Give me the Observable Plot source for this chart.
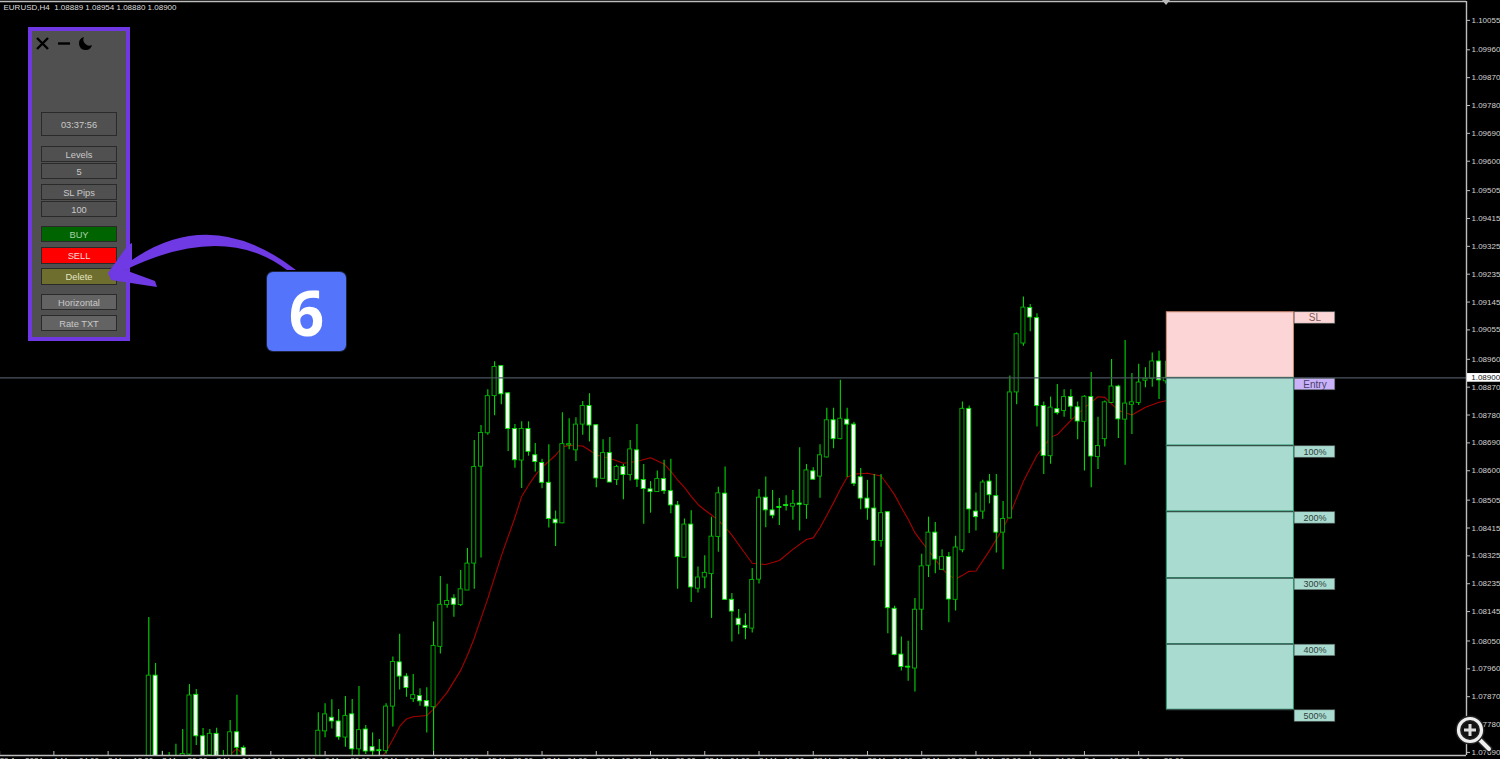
<!DOCTYPE html>
<html>
<head>
<meta charset="utf-8">
<script src="https://cdn.jsdelivr.net/npm/d3@7"></script>
<script src="https://cdn.jsdelivr.net/npm/@observablehq/plot@0.6"></script>
<style>
html,body{margin:0;padding:0;background:#000;overflow:hidden;width:1500px;height:759px}
#chart{position:absolute;left:0;top:0}
#chart svg{display:block}
.panel{position:absolute;left:28px;top:27px;width:94px;height:306px;background:#505050;border:4px solid #7038e2}
.btn{position:absolute;left:41px;width:74px;box-sizing:content-box;border:1.5px solid #2a2a2a;background:#505050;color:#c9c9c9;font:9.3px "Liberation Sans",Arial,sans-serif;text-align:center;display:flex;align-items:center;justify-content:center;padding-top:1px}
svg.over{position:absolute;left:0;top:0;pointer-events:none}
.badge{position:absolute;left:267px;top:272px;width:79px;height:79px;border-radius:6px;background:#5475fb;box-shadow:0 0 0 1px #1c2440;color:#fff;font:700 62px "Noto Sans",sans-serif;display:flex;align-items:center;justify-content:center}
</style>
</head>
<body>
<div id="chart"></div>
<div class="panel"></div>
<div class="btn" style="top:112px;height:21px">03:37:56</div>
<div class="btn" style="top:146px;height:13px">Levels</div>
<div class="btn" style="top:163px;height:13px">5</div>
<div class="btn" style="top:184px;height:13px">SL Pips</div>
<div class="btn" style="top:201px;height:13px">100</div>
<div class="btn" style="top:226px;height:13px;background:#006400;color:#a9d3a9">BUY</div>
<div class="btn" style="top:247px;height:14px;background:#ff0000;color:#ffd8d8">SELL</div>
<div class="btn" style="top:268px;height:14px;background:#6e6e2e;color:#e6e6c4">Delete</div>
<div class="btn" style="top:294px;height:13px;background:#636363">Horizontal</div>
<div class="btn" style="top:315px;height:13px;background:#636363">Rate TXT</div>
<svg class="over" width="1500" height="759">
  <path d="M37 38L48 49M48 38L37 49" stroke="#000" stroke-width="2.4" fill="none"/>
  <path d="M58 43.5H70" stroke="#000" stroke-width="2.4" fill="none"/>
  <path d="M84 37a6.6 6.6 0 1 0 8 8a6 6 0 0 1-8-8z" fill="#000"/>
  <path d="M296 270Q212 205 132 260L132 243L128 245L108 273L111 280L157 287L155 281L125 270Q224 222 287 270Z" fill="#6f39e4"/>
  <path d="M1162 0H1170L1166 5Z" fill="#b9b9b9"/>
  <g fill="none" stroke-linecap="round">
    <path d="M1479 739L1489 749" stroke="#222" stroke-width="7"/>
    <path d="M1479 739L1489 749" stroke="#eee" stroke-width="4"/>
    <circle cx="1470" cy="730" r="11.5" stroke="#222" stroke-width="6" fill="#111"/>
    <circle cx="1470" cy="730" r="11.5" stroke="#eee" stroke-width="3.2"/>
    <path d="M1464 730H1476M1470 724V736" stroke="#ddd" stroke-width="3" stroke-linecap="butt"/>
  </g>
</svg>
<div class="badge">6</div>
<script>
// EURUSD H4 candles, in points (1e-5). Null = below the visible window.
const n10 = [null,null,null,null,null,null,null,null,null,null];
const openPts = [107640,107938,107640,107640,107640,107660,107683,107876,107742,107681,
107750,107640,107660,107755,107704,...n10,107650,107758,107802,107790,107738,
107813,107700,107764,107707,107697,107694,107838,107981,107935,107862,
107872,107856,107836,108031,108166,108187,108166,108213,108300,108613,
108721,108841,108938,108850,108735,108633,108735,108650,108625,108561,
108442,108430,108682,108666,108749,108809,108747,108574,108657,108570,
108612,108586,108666,108570,108540,108531,108573,108534,108488,108319,
108426,108219,108255,108266,108386,108526,108183,108122,108099,108090,
108248,108513,108472,108483,108489,108484,108494,108489,108598,108581,
108643,108763,108702,108765,108749,108579,108510,108478,108373,108466,
108154,108006,107967,107961,108151,108293,108400,108280,108321,108183,
108343,108800,108468,108468,108565,108518,108400,108446,108853,109011,
109126,109093,108809,108647,108799,108793,108838,108805,108758,108838,
108644,108702,108819,108872,108765,108813,108819,108891,108897,108953,108889];
const closePts = [107938,107640,107620,107620,107620,107685,107874,107742,107660,107750,
107660,107620,107755,107705,107660,...n10,107760,107813,107790,107739,107808,
107700,107762,107693,107693,107694,107838,107982,107935,107898,107875,
107855,107838,108034,108167,108179,108167,108217,108300,108612,108722,
108841,108935,108847,108735,108634,108735,108661,108628,108561,108444,
108430,108686,108686,108749,108809,108746,108575,108657,108562,108612,
108586,108669,108571,108541,108531,108573,108534,108488,108321,108426,
108223,108255,108270,108387,108527,108183,108145,108101,108092,108247,
108513,108472,108455,108480,108486,108493,108490,108601,108571,108650,
108763,108702,108768,108749,108558,108510,108478,108373,108463,108156,
108005,107966,107964,108151,108291,108400,108313,108321,108184,108352,
108800,108475,108450,108562,108521,108400,108444,108853,109041,109127,
109095,108809,108648,108804,108786,108838,108807,108759,108839,108646,
108680,108821,108872,108766,108817,108821,108885,108897,108953,108892,108900];
const highPts = [108126,107977,107694,107690,107716,107764,107909,107893,107767,107764,
107768,107696,107793,107875,107711,...n10,107818,107847,107860,107829,107871,
107861,107903,107777,107753,107732,107847,107998,108072,107944,107942,
107896,107899,108111,108258,108233,108199,108278,108349,108698,108746,
108862,108952,108939,108853,108749,108758,108758,108688,108637,108684,
108470,108787,108768,108771,108824,108849,108749,108700,108707,108618,
108620,108698,108749,108620,108565,108599,108634,108637,108501,108444,
108471,108289,108325,108450,108547,108612,108203,108152,108138,108284,
108539,108580,108536,108510,108519,108536,108674,108620,108610,108684,
108802,108802,108892,108802,108757,108607,108569,108588,108588,108468,
108162,108063,108049,108187,108330,108450,108433,108345,108336,108388,
108822,108809,108528,108569,108588,108588,108501,108906,109045,109161,
109137,109107,108822,108838,108879,108862,108862,108822,108842,108917,
108773,108825,108959,108876,109021,108914,108944,108933,108980,108986,108954];
const lowPts = [107600,107600,107600,107600,107600,107640,107660,107712,107640,107670,
107640,107600,107640,107660,107640,...n10,107630,107737,107766,107729,107707,
107660,107660,107683,107670,107670,107685,107772,107892,107868,107851,
107839,107753,107660,108008,108156,108127,108161,108213,108217,108318,
108715,108778,108813,108662,108608,108543,108647,108596,108542,108415,
108355,108429,108668,108630,108715,108693,108545,108574,108561,108552,
108506,108567,108546,108427,108463,108530,108523,108461,108217,108319,
108174,108205,108219,108123,108337,108181,108047,108070,108054,108076,
108234,108416,108445,108423,108470,108440,108405,108443,108570,108511,
108641,108671,108700,108578,108549,108474,108440,108292,108353,108073,
108002,107953,107920,107885,108084,108255,108267,108280,108109,108147,
108335,108397,108405,108443,108493,108334,108280,108444,108813,109002,
109049,108741,108588,108621,108780,108773,108765,108700,108599,108545,
108604,108677,108818,108704,108618,108717,108811,108868,108870,108830,108880];

// Moving average, read at these bars.
const maBars = [12,13,14,20,28,34,35,36,37,38,39,41,42,44,46,47,48,50,52,54,55,56,57,58,60,61,62,64,65,66,68,70,72,74,76,77,78,79,80,81,82,83,84,85,86,88,89,91,93,95,97,98,99,100,101,102,103,104,106,108,109,110,111,112,113,114,115,117,118,119,120,121,122,124,126,127,129,131,133,134,136,138,140,141,143,145,147,149,150];
const maPts = [107682,107703,107680,107535,107535,107664,107693,107732,107774,107798,107805,107809,107830,107884,107955,108004,108059,108187,108325,108449,108517,108553,108585,108611,108650,108677,108682,108680,108666,108651,108640,108624,108630,108642,108622,108598,108570,108546,108517,108491,108473,108457,108440,108418,108392,108331,108301,108297,108310,108346,108378,108383,108416,108456,108497,108540,108579,108589,108592,108583,108554,108522,108481,108443,108400,108370,108343,108284,108262,108250,108262,108275,108276,108342,108414,108458,108566,108650,108708,108717,108763,108803,108839,108837,108795,108780,108805,108821,108826];

// Right-hand price axis
const priceTicks = [1.10055,1.09960,1.09870,1.09780,1.09690,1.09600,1.09505,1.09415,1.09325,1.09235,1.09145,1.09055,1.08960,1.08870,1.08780,1.08690,1.08600,1.08505,1.08415,1.08325,1.08235,1.08145,1.08050,1.07960,1.07870,1.07780,1.07690];

// Time axis
const dateBars = [-22,-14,-6,2,10,18,26,34,42,50,58,66,74,82,90,98,106,114,122,130,138,146];
const dateLabels = ["29 Apr 2024","1 May","2 May","3 May","7 May","8 May","9 May","13 May","14 May","15 May","17 May","20 May","21 May","22 May","24 May","27 May","28 May","30 May","31 May","4 Jun","5 Jun","6 Jun"];
const timeBars = [-10,-2,6,14,22,30,38,46,54,62,70,78,86,94,102,110,118,126,134,142,150];
const timeLabels = ["04:00","12:00","20:00","04:00","12:00","20:00","04:00","12:00","20:00","04:00","12:00","20:00","04:00","12:00","20:00","04:00","12:00","20:00","04:00","12:00","20:00"];

// Trade levels
const bidPrice = 1.08900;
const slPrice = 1.09112;
const tpPrices = [1.08681,1.08468,1.08253,1.08040,1.07828];
const tpNames = ["100%","200%","300%","400%","500%"];
const quote = "EURUSD,H4  1.08889 1.08954 1.08880 1.08900";

const candles = openPts.map((o,i)=>({i,open:o==null?null:o/1e5,close:closePts[i]==null?null:closePts[i]/1e5,high:highPts[i]==null?null:highPts[i]/1e5,low:lowPts[i]==null?null:lowPts[i]/1e5})).filter(d=>d.open!=null);
const ma = maBars.map((b,k)=>({b,v:maPts[k]/1e5}));

const boxL=150.15, boxR=168.9, tagL=169, tagR=175, tagH=0.00037;
const xMax=194.35, xMin=-21.873, yMin=1.0768, yMax=1.10116;
const zoneTops=[bidPrice,...tpPrices.slice(0,-1)];
const zones=tpPrices.map((p,k)=>({top:zoneTops[k],bottom:p}));
const tags=[{name:"SL",p:slPrice,fill:"#fcd6d6",ink:"#7d5a5a"},{name:"Entry",p:bidPrice-0.00003,fill:"#c9b2fa",ink:"#4a3f6a"},...tpPrices.map((p,k)=>({name:tpNames[k],p:p-0.00002,fill:"#a9dbd0",ink:"#303f3a"}))];
const font='"Liberation Sans",Arial,sans-serif';
const axisInk="#d2d2d2", lineInk="#bdbdbd";

const plot=Plot.plot({
  width:1500,height:759,marginLeft:0,marginRight:34,marginTop:1,marginBottom:4,
  style:{background:"#000",fontFamily:font,overflow:"hidden"},
  x:{domain:[xMin,xMax],axis:null},
  y:{domain:[yMin,yMax],axis:null},
  marks:[
    Plot.line(ma,{x:"b",y:"v",stroke:"#a80000",strokeWidth:1.1,clip:true}),
    Plot.ruleX(candles,{x:"i",y1:"low",y2:"high",stroke:"#00d800",strokeWidth:1.1,clip:true}),
    Plot.rect(candles,{x1:d=>d.i-0.3,x2:d=>d.i+0.3,y1:"open",y2:"close",fill:d=>d.close<d.open?"#fff":"#000",stroke:d=>d.close<d.open?"#00ea00":"#00b800",strokeWidth:0.9,clip:true}),
    Plot.ruleY([bidPrice],{stroke:"#4b5560",strokeWidth:1.3}),
    Plot.rect([{a:bidPrice,b:slPrice}],{x1:boxL,x2:boxR,y1:"a",y2:"b",fill:"#fcd6d6",stroke:"#cf8a72",strokeWidth:1}),
    Plot.rect(zones,{x1:boxL,x2:boxR,y1:"top",y2:"bottom",fill:"#a9dbd0",stroke:"#2f9a72",strokeWidth:1}),
    Plot.ruleY(tpPrices,{x1:boxL,x2:boxR,stroke:"#37514a",strokeWidth:1.2}),
    Plot.ruleY([bidPrice],{x1:boxL,x2:boxR,stroke:"#4b5560",strokeWidth:1.3}),
    Plot.rect(tags,{x1:tagL,x2:tagR,y1:d=>d.p,y2:d=>d.p-tagH,fill:"fill",stroke:"#55605c",strokeWidth:0.6}),
    Plot.text(tags,{x:(tagL+tagR)/2,y:d=>d.p-tagH/2,text:"name",fill:"ink",fontSize:d=>d.name==="Entry"||d.name==="SL"?10:9}),
    Plot.ruleY([yMin,yMax],{stroke:lineInk,strokeWidth:1.4}),
    Plot.ruleX([xMax],{stroke:lineInk,strokeWidth:1.4}),
    Plot.axisY({anchor:"right",ticks:priceTicks,tickFormat:d3.format(".5f"),tickSize:3,tickPadding:2,stroke:lineInk,fill:axisInk,fontSize:8,fontVariant:"normal",label:null,textAnchor:"start"}),
    Plot.axisX({anchor:"bottom",ticks:dateBars,tickFormat:d=>dateLabels[dateBars.indexOf(d)],tickSize:-4,tickPadding:6,stroke:lineInk,fill:axisInk,fontSize:8,fontVariant:"normal",textAnchor:"start",label:null}),
    Plot.axisX({anchor:"bottom",ticks:timeBars,tickFormat:d=>timeLabels[timeBars.indexOf(d)],tickSize:0,tickPadding:2,dx:-2,fill:axisInk,fontSize:8,fontVariant:"normal",textAnchor:"start",label:null}),
    Plot.rect([{a:bidPrice+0.00014,b:bidPrice-0.00014}],{x1:194.5,x2:199.4,y1:"a",y2:"b",fill:"#fff",clip:false}),
    Plot.text([bidPrice],{x:195.05,y:d=>d,text:d=>d3.format(".5f")(d),textAnchor:"start",fill:"#111",fontSize:8}),
    Plot.text([quote],{frameAnchor:"top-left",dx:3,dy:3,text:d=>d,fill:"#dedede",fontSize:8,fontFamily:font})
  ]
});
document.getElementById("chart").appendChild(plot);
</script>
</body>
</html>
